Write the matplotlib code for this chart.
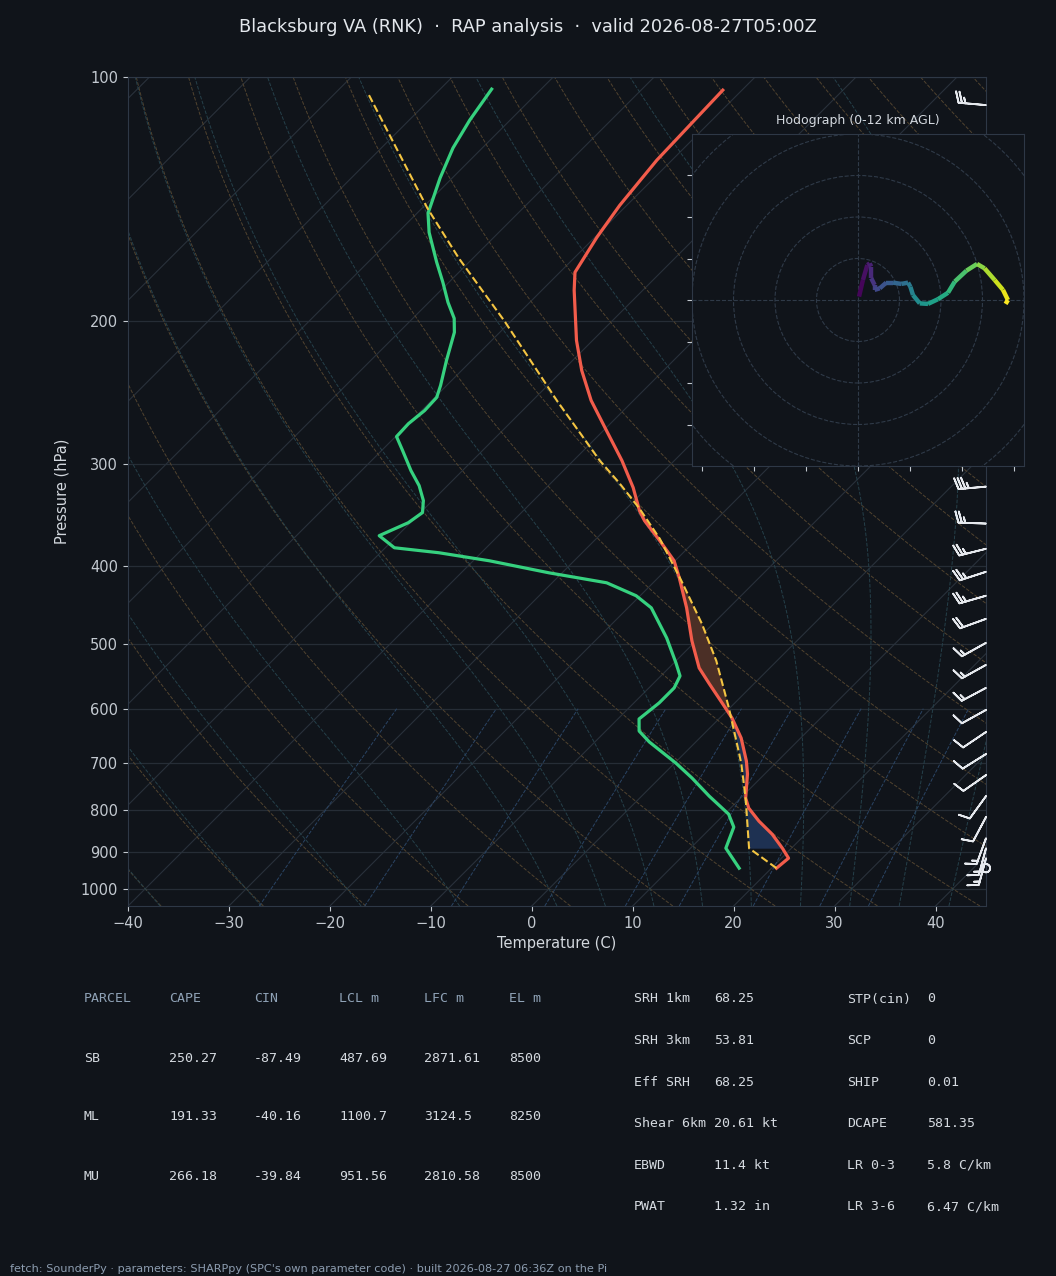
import numpy as np
import matplotlib
matplotlib.use("Agg")
import matplotlib.pyplot as plt
from matplotlib.transforms import Affine2D, blended_transform_factory
from matplotlib.collections import LineCollection
from matplotlib.patches import Circle
from matplotlib.ticker import NullLocator, FixedFormatter

# ---------- sounding ---------- #
temp_p = [943.2, 916.8, 891.2, 856.5, 825.4, 795.5, 773.2, 722.2, 696.0, 652.0,
          615.9, 591.9, 559.3, 534.5, 495.0, 450.7, 413.9, 394.4, 372.6, 352.0,
          342.1, 320.5, 296.8, 272.6, 250.3, 229.9, 211.1, 183.1, 174.0, 157.5,
          143.9, 126.6, 103.8]
temp_c = [20.5, 20.7, 19.1, 16.7, 14.1, 11.8, 10.5, 8.3, 6.9, 4.1,
          1.2, -1.1, -4.4, -7.0, -10.4, -14.2, -17.9, -20.1, -23.5, -27.0,
          -28.5, -31.4, -35.2, -39.7, -44.2, -48.1, -51.6, -56.8, -58.5, -59.8,
          -60.7, -61.5, -61.9]

dwpt_p = [943.2, 891.2, 839.5, 809.1, 768.9, 730.4, 699.9, 659.4, 639.2, 617.7,
          590.2, 565.6, 546.8, 526.9, 490.8, 450.7, 435.5, 419.8, 408.1, 394.4,
          385.5, 380.1, 367.3, 354.0, 344.0, 332.5, 318.7, 305.4, 288.6, 277.3,
          267.3, 257.6, 248.2, 239.9, 223.4, 206.3, 198.3, 189.5, 179.0, 169.1,
          155.4, 147.2, 133.2, 122.3, 113.0, 103.5]
dwpt_c = [16.8, 13.5, 12.2, 10.4, 6.7, 3.2, 0.1, -4.6, -6.7, -7.9,
          -7.5, -7.5, -8.1, -9.8, -13.2, -17.7, -20.4, -24.6, -31.3, -38.4,
          -44.2, -49.1, -51.8, -50.2, -49.8, -50.9, -52.8, -55.1, -57.9, -59.9,
          -60.0, -59.7, -59.8, -60.6, -62.5, -64.5, -65.9, -68.1, -70.6, -73.2,
          -76.9, -78.9, -81.2, -82.9, -84.0, -84.9]

parcel_p = [943.2, 891.2, 773.2, 702.0, 682.3, 598.6, 523.9, 471.6, 417.4, 370.5,
            340.1, 316.0, 296.8, 250.3, 200.0, 167.2, 145.0, 104.4]
parcel_c = [20.5, 15.8, 10.5, 6.7, 5.5, -0.1, -6.0, -11.1, -17.4, -23.7,
            -28.7, -33.3, -37.4, -47.6, -60.6, -71.4, -79.5, -96.9]

# wind barbs (direction deg, speed kt)
barb_p = [943.2, 916.8, 891.2, 866.3, 815.9, 768.9, 724.3, 682.3, 641.0, 602.1,
          565.6, 529.9, 497.8, 465.0, 435.5, 406.9, 381.2, 354.9, 319.6, 108.3]
barb_dir = [0, 195, 195, 200, 208, 216, 235, 238, 236, 241,
            242, 241, 241, 250, 254, 252, 256, 272, 265, 275]
barb_kt = [0, 15, 15, 15, 10, 10, 10, 10, 10, 10,
           15, 15, 15, 20, 25, 25, 25, 25, 35, 25]

# hodograph 0-12 km (kt)
hodo_u = [0.4, 1.9, 3.6, 4.5, 5.1, 5.1, 6.4, 6.4, 8.4, 10.9, 13.5, 16.7, 19.3, 20.2,
          21.2, 23.8, 27.0, 30.8, 34.7, 37.3, 41.8, 45.9, 48.8, 52.7, 55.9, 57.8, 56.9]
hodo_v = [1.3, 7.7, 13.5, 14.1, 12.9, 8.4, 5.8, 3.9, 4.5, 6.7, 6.7, 6.2, 6.7, 5.1,
          1.9, -1.3, -1.5, 0.3, 2.8, 7.1, 11.3, 13.9, 12.2, 7.7, 3.9, 0.0, -1.5]
hodo_km = [0.0, 0.3, 0.7, 1.0, 1.2, 1.6, 2.0, 2.4, 2.8, 3.2, 3.6, 4.1, 4.6, 5.0,
           5.5, 6.0, 6.5, 7.0, 7.6, 8.2, 8.9, 9.6, 10.2, 10.8, 11.4, 11.9, 12.0]

# parameter tables
parcel_names = ["SB", "ML", "MU"]
cape = [250.27, 191.33, 266.18]
cin = [-87.49, -40.16, -39.84]
lcl_m = [487.69, 1100.7, 951.56]
lfc_m = [2871.61, 3124.5, 2810.58]
el_m = [8500, 8250, 8500]

kin_names = ["SRH 1km", "SRH 3km", "Eff SRH", "Shear 6km", "EBWD", "PWAT"]
kin_vals = ["68.25", "53.81", "68.25", "20.61 kt", "11.4 kt", "1.32 in"]
thermo_names = ["STP(cin)", "SCP", "SHIP", "DCAPE", "LR 0-3", "LR 3-6"]
thermo_vals = ["0", "0", "0.01", "581.35", "5.8 C/km", "6.47 C/km"]

# ---------- style ---------- #
BG = "#10141a"
SPINE = "#2e3846"
TXT = "#d3d8de"
GRID = "#262d36"
ISO = "#29313b"
DRY = "#51432f"
MOIST = "#25404a"
MIX = "#2a4464"
T_COL = "#f25c4b"
TD_COL = "#36d17f"
PCL_COL = "#f4c542"

W, H = 1056, 1276
fig = plt.figure(figsize=(W / 100, H / 100), dpi=100, facecolor=BG)


def fx(x):
    return x / W


def fy(y):
    return 1 - y / H


# ---------- skew-T axes ---------- #
ax_l, ax_r, ax_t, ax_b = 128, 986, 77, 906
ax = fig.add_axes([fx(ax_l), fy(ax_b), (ax_r - ax_l) / W, (ax_b - ax_t) / H])
ax.set_facecolor(BG)
ax.set_yscale("log")
ax.set_ylim(1050, 100)
ax.set_xlim(-40, 45)
ax.set_autoscale_on(False)

k_skew = (ax_b - ax_t) / (ax_r - ax_l)          # 45 degree isotherms
skew = (ax.transScale + ax.transLimits
        + Affine2D(np.array([[1, k_skew, 0], [0, 1, 0], [0, 0, 1]]))
        + ax.transAxes)

# isotherms
for t in np.arange(-130, 50, 10):
    ax.plot([t, t], [1050, 100], transform=skew, color=ISO, lw=0.8, zorder=1)

# dry adiabats
p_bg = np.geomspace(1050, 100, 120)
for th in np.arange(-40, 201, 10):
    t = (th + 273.15) * (p_bg / 1000.0) ** 0.2857 - 273.15
    ax.plot(t, p_bg, transform=skew, color=DRY, lw=0.7, ls="--", zorder=1)


# moist adiabats
def dtdp(T, p):
    es = 6.112 * np.exp(17.67 * (T - 273.15) / (T - 29.65))
    rs = 0.622 * es / (p - es)
    return ((287.04 * T + 2.501e6 * rs)
            / (p * (1005.7 + 2.501e6 ** 2 * rs * 0.622 / (287.04 * T ** 2))))


def moist_lapse(t0, pres):
    T = np.asarray(t0, float) + 273.15
    out = [T]
    for p0, p1 in zip(pres[:-1], pres[1:]):
        k1 = dtdp(T, p0)
        k2 = dtdp(T + k1 * (p1 - p0), p1)
        T = T + 0.5 * (k1 + k2) * (p1 - p0)
        out.append(T)
    return np.array(out) - 273.15


t0_moist = np.concatenate((np.arange(-40, 0, 10), np.arange(0, 46, 5)))
p_up = np.geomspace(1000, 100, 200)
p_dn = np.linspace(1000, 1050, 10)
t_up = moist_lapse(t0_moist, p_up)
t_dn = moist_lapse(t0_moist, p_dn)
for i in range(len(t0_moist)):
    pp = np.concatenate((p_dn[::-1], p_up[1:]))
    tt = np.concatenate((t_dn[::-1, i], t_up[1:, i]))
    ax.plot(tt, pp, transform=skew, color=MOIST, lw=0.7, ls="--", zorder=1)

# mixing ratio lines
p_mix = np.geomspace(1050, 600, 30)
for w in [0.0004, 0.001, 0.002, 0.004, 0.007, 0.01, 0.016, 0.024, 0.032]:
    e = p_mix * w / (0.622 + w)
    lg = np.log(e / 6.112)
    td = 243.5 * lg / (17.67 - lg)
    ax.plot(td, p_mix, transform=skew, color=MIX, lw=0.7, ls="--", zorder=1)


# CAPE / CIN shading between parcel and environment
def on_levels(p_src, t_src, p_new):
    p_src = np.asarray(p_src)
    t_src = np.asarray(t_src)
    order = np.argsort(p_src)
    return np.interp(np.log(p_new), np.log(p_src[order]), t_src[order])


p_fill = np.unique(np.concatenate((temp_p, parcel_p)))
p_fill = p_fill[(p_fill <= 891.2) & (p_fill >= 405)]
env_f = on_levels(temp_p, temp_c, p_fill)
pcl_f = on_levels(parcel_p, parcel_c, p_fill)
ax.fill_betweenx(p_fill, env_f, pcl_f, where=pcl_f >= env_f, interpolate=True,
                 transform=skew, color="#4b2f26", lw=0, zorder=2)
ax.fill_betweenx(p_fill, env_f, pcl_f, where=pcl_f <= env_f, interpolate=True,
                 transform=skew, color="#1e3152", lw=0, zorder=2)

# profiles
ax.plot(temp_c, temp_p, transform=skew, color=T_COL, lw=2.3, zorder=4)
ax.plot(dwpt_c, dwpt_p, transform=skew, color=TD_COL, lw=2.3, zorder=4)
ax.plot(parcel_c, parcel_p, transform=skew, color=PCL_COL, lw=1.5, ls="--", zorder=5)

# wind barbs on the right edge
bdir = np.deg2rad(barb_dir)
bu = -np.asarray(barb_kt) * np.sin(bdir)
bv = -np.asarray(barb_kt) * np.cos(bdir)
ax.barbs(np.ones(len(barb_p)), barb_p, bu, bv,
         transform=blended_transform_factory(ax.transAxes, ax.transData),
         length=6.3, color="#e6e9ee", lw=1.3, clip_on=False, zorder=6)

# axes cosmetics
ax.set_yticks(range(100, 1001, 100))
ax.yaxis.set_major_formatter(FixedFormatter([str(v) for v in range(100, 1001, 100)]))
ax.yaxis.set_minor_locator(NullLocator())
ax.set_xticks(range(-40, 41, 10))
ax.grid(axis="y", color=GRID, lw=0.9, zorder=0)
ax.set_axisbelow(True)
for s in ax.spines.values():
    s.set_color(SPINE)
ax.tick_params(colors="#c3c9d0", labelsize=10.5, length=3.5)
ax.set_ylabel("Pressure (hPa)", color=TXT, fontsize=10.5, labelpad=8)
ax.set_xlabel("Temperature (C)", color=TXT, fontsize=10.5, labelpad=4)

# ---------- hodograph inset ---------- #
hx0, hx1, hy0, hy1 = 692, 1024, 134, 466
axh = fig.add_axes([fx(hx0), fy(hy1), (hx1 - hx0) / W, (hy1 - hy0) / H])
axh.set_facecolor(BG)
axh.set_xlim(-64, 64)
axh.set_ylim(-64, 64)
for r in range(16, 97, 16):
    axh.add_patch(Circle((0, 0), r, fill=False, ec="#2f3a48", lw=0.8, ls="--"))
axh.axhline(0, color="#2f3a48", lw=0.8, ls="--")
axh.axvline(0, color="#2f3a48", lw=0.8, ls="--")
pts = np.column_stack((hodo_u, hodo_v)).reshape(-1, 1, 2)
segs = np.concatenate((pts[:-1], pts[1:]), axis=1)
hk = np.asarray(hodo_km)
lc = LineCollection(segs, cmap="viridis", norm=plt.Normalize(0, 12), lw=3.2,
                    capstyle="butt", zorder=3)
lc.set_array(0.5 * (hk[:-1] + hk[1:]))
axh.add_collection(lc)
axh.set_xticks(range(-60, 61, 20))
axh.set_yticks(range(-48, 49, 16))
axh.set_xticklabels([])
axh.set_yticklabels([])
axh.tick_params(colors="#c3c9d0", length=3.5)
for s in axh.spines.values():
    s.set_color(SPINE)
axh.set_title("Hodograph (0-12 km AGL)", color=TXT, fontsize=9, pad=7)

# ---------- title / tables / footer ---------- #
fig.text(0.5, fy(27), "Blacksburg VA (RNK)  \u00b7  RAP analysis  \u00b7  valid 2026-08-27T05:00Z",
         ha="center", va="center", color="#e3e7ec", fontsize=12.8)

mono = dict(family="DejaVu Sans Mono", fontsize=9.5, va="center")
col_x = [84, 169, 254, 339, 424, 509]
for x, h in zip(col_x, ["PARCEL", "CAPE", "CIN", "LCL m", "LFC m", "EL m"]):
    fig.text(fx(x), fy(999), h, color="#8fa2b6", **mono)
for i, name in enumerate(parcel_names):
    row = [name] + [f"{v:g}" for v in (cape[i], cin[i], lcl_m[i], lfc_m[i], el_m[i])]
    for x, s in zip(col_x, row):
        fig.text(fx(x), fy(1058 + 59 * i), s, color="#d5dae0", **mono)

for i in range(len(kin_names)):
    y = fy(999 + 41.6 * i)
    fig.text(fx(634), y, kin_names[i], color="#d5dae0", **mono)
    fig.text(fx(714), y, kin_vals[i], color="#d5dae0", **mono)
    fig.text(fx(847), y, thermo_names[i], color="#d5dae0", **mono)
    fig.text(fx(927), y, thermo_vals[i], color="#d5dae0", **mono)

fig.text(fx(10), fy(1269),
         "fetch: SounderPy \u00b7 parameters: SHARPpy (SPC's own parameter code) \u00b7 "
         "built 2026-08-27 06:36Z on the Pi",
         ha="left", va="center", color="#8d9db0", fontsize=8.15)

fig.savefig("out.png", dpi=100, facecolor=BG)
